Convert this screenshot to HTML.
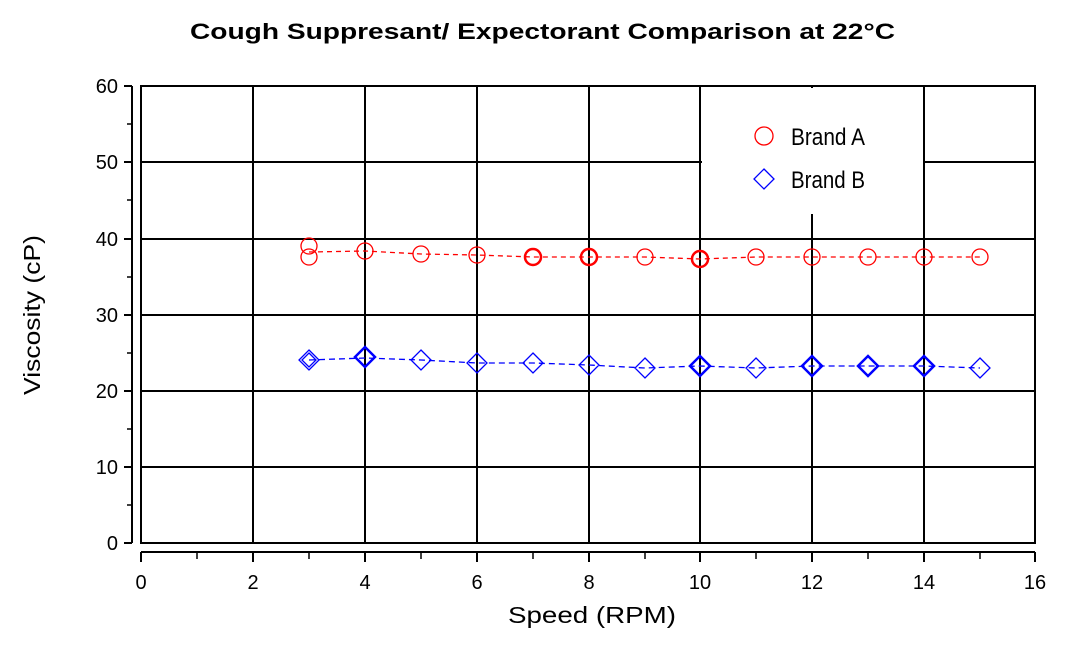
<!DOCTYPE html>
<html><head><meta charset="utf-8"><style>body{margin:0;background:#fff}svg{display:block}</style></head><body>
<svg width="1076" height="646" xmlns="http://www.w3.org/2000/svg" font-family="Liberation Sans, sans-serif">
<rect width="1076" height="646" fill="#fff"/>
<text x="190" y="39" font-size="22" font-weight="bold" textLength="705" lengthAdjust="spacingAndGlyphs">Cough Suppresant/ Expectorant Comparison at 22°C</text>
<g stroke="#000" stroke-width="2" fill="none">
<rect x="141" y="86" width="894" height="457"/>
<path d="M253 86V543M365 86V543M477 86V543M589 86V543M700 86V543M812 86V543M924 86V543M141 162H1035M141 239H1035M141 315H1035M141 391H1035M141 467H1035"/>
<path d="M132 86V543M124 86H132M124 162H132M124 239H132M124 315H132M124 391H132M124 467H132M124 543H132"/>
<path d="M141 552H1035M141 552V562M253 552V562M365 552V562M477 552V562M589 552V562M700 552V562M812 552V562M924 552V562M1035 552V562"/>
</g>
<g stroke="#000" stroke-width="1.5">
<path d="M127 124H132M127 200H132M127 277H132M127 353H132M127 429H132M127 505H132"/>
<path d="M197 552V559M309 552V559M421 552V559M533 552V559M645 552V559M756 552V559M868 552V559M980 552V559"/>
</g>
<rect x="702" y="88" width="221" height="126" fill="#fff"/>
<g font-size="20" text-anchor="end">
<text x="118" y="93">60</text><text x="118" y="169">50</text><text x="118" y="246">40</text><text x="118" y="322">30</text><text x="118" y="398">20</text><text x="118" y="474">10</text><text x="118" y="550">0</text>
</g>
<g font-size="20" text-anchor="middle">
<text x="141" y="589">0</text><text x="253" y="589">2</text><text x="365" y="589">4</text><text x="477" y="589">6</text><text x="589" y="589">8</text><text x="700" y="589">10</text><text x="812" y="589">12</text><text x="924" y="589">14</text><text x="1035" y="589">16</text>
</g>
<text x="508" y="623" font-size="23" textLength="168" lengthAdjust="spacingAndGlyphs">Speed (RPM)</text>
<text transform="translate(40,395) rotate(-90)" font-size="23" textLength="160" lengthAdjust="spacingAndGlyphs">Viscosity (cP)</text>
<g fill="none" stroke="#f00" stroke-width="1.3">
<polyline stroke-dasharray="5,4" points="309,252 365,251 421,254 477,255 533,257 589,257 645,257 700,259 756,257 812,257 868,257 924,257 980,257"/>
<circle cx="309" cy="246" r="8"/><circle cx="309" cy="257" r="8"/>
<circle cx="365" cy="251" r="8"/><circle cx="421" cy="254" r="8"/><circle cx="477" cy="255" r="8"/>
<circle cx="533" cy="257" r="8" stroke-width="2.5"/><circle cx="589" cy="257" r="8" stroke-width="2.5"/>
<circle cx="645" cy="257" r="8"/><circle cx="700" cy="259" r="8" stroke-width="2.5"/>
<circle cx="756" cy="257" r="8"/><circle cx="812" cy="257" r="8"/><circle cx="868" cy="257" r="8"/><circle cx="924" cy="257" r="8"/><circle cx="980" cy="257" r="8"/>
<circle cx="764" cy="136" r="9"/>
</g>
<g fill="none" stroke="#00f" stroke-width="1.3">
<polyline stroke-dasharray="6,4" points="309,360 365,358 421,360 477,363 533,363 589,365 645,368 700,366 756,368 812,366 868,366 924,366 980,368"/>
<path d="M309 350l10 10l-10 10l-10-10z M309 353l7 7l-7 7l-7-7z"/>
<path d="M365 347l10 10l-10 10l-10-10z" stroke-width="2.5"/>
<path d="M421 350l10 10l-10 10l-10-10z M477 353l10 10l-10 10l-10-10z M533 353l10 10l-10 10l-10-10z M589 355l10 10l-10 10l-10-10z M645 358l10 10l-10 10l-10-10z M756 358l10 10l-10 10l-10-10z M980 358l10 10l-10 10l-10-10z"/>
<path d="M700 356l10 10l-10 10l-10-10z M812 356l10 10l-10 10l-10-10z M868 356l10 10l-10 10l-10-10z M924 356l10 10l-10 10l-10-10z" stroke-width="2.5"/>
<path d="M764 169l10 10l-10 10l-10-10z"/>
</g>
<g font-size="24">
<text x="791" y="145" textLength="74" lengthAdjust="spacingAndGlyphs">Brand A</text>
<text x="791" y="188" textLength="74" lengthAdjust="spacingAndGlyphs">Brand B</text>
</g>
</svg>
</body></html>
